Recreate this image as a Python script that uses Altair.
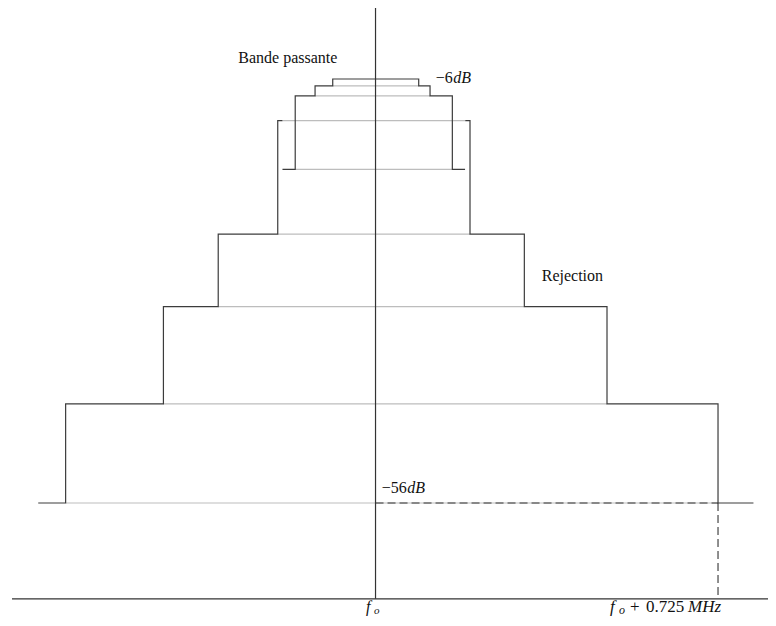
import altair as alt
import pandas as pd

# Frequency offsets (MHz, relative to f_o) and levels (dB)
rej_left_f = [-0.714, -0.656, -0.656, -0.449, -0.449, -0.333, -0.333, -0.207, -0.207, -0.197]
rej_left_db = [-56, -56, -44.3, -44.3, -32.85, -32.85, -24.3, -24.3, -10.9, -10.9]
rej_right_f = [0.190, 0.200, 0.200, 0.315, 0.315, 0.490, 0.490, 0.725, 0.725, 0.800]
rej_right_db = [-10.9, -10.9, -24.3, -24.3, -32.85, -32.85, -44.3, -44.3, -56, -56]
pass_f = [-0.197, -0.170, -0.170, -0.128, -0.128, -0.0906, -0.0906, 0.0914,
          0.0914, 0.1154, 0.1154, 0.1626, 0.1626, 0.1895]
pass_db = [-16.65, -16.65, -8.0, -8.0, -6.8, -6.8, -6.0, -6.0,
           -6.8, -6.8, -8.0, -8.0, -16.65, -16.65]

# light level lines across each step
grid_db = [-6.8, -8.0, -10.9, -16.65, -24.3, -32.85, -44.3, -56]
grid_f1 = [-0.0906, -0.128, -0.197, -0.170, -0.207, -0.333, -0.449, -0.656]
grid_f2 = [0.0914, 0.1154, 0.190, 0.1626, 0.200, 0.315, 0.490, 0.725]

# axes
axis_db = -67.3
f_min, f_max = -0.7695, 0.8308
db_top = 2.37
f_mark = 0.725
db_mark = -56

X_DOM = [-0.778, 0.8308]
Y_DOM = [-69.56, 2.373]
PX = 472.4  # pixels per MHz, used only for small text offsets

xs = alt.Scale(domain=X_DOM, nice=False, zero=False)
ys = alt.Scale(domain=Y_DOM, nice=False, zero=False)

rows = []
for name, fs, ds in [("rl", rej_left_f, rej_left_db), ("rr", rej_right_f, rej_right_db), ("pb", pass_f, pass_db)]:
    for i, (f, d) in enumerate(zip(fs, ds)):
        rows.append({"line": name, "i": i, "f": f, "db": d})
poly = pd.DataFrame(rows)

grid = pd.DataFrame({"f1": grid_f1, "f2": grid_f2, "db1": grid_db, "db2": grid_db})
axes = pd.DataFrame({"f1": [f_min, 0.0], "f2": [f_max, 0.0],
                     "db1": [axis_db, axis_db], "db2": [axis_db, db_top]})
dash = pd.DataFrame({"f1": [0.0, f_mark], "f2": [f_mark, f_mark],
                     "db1": [db_mark, db_mark], "db2": [db_mark, axis_db]})


def segs(df, color, width, dashp=None):
    kw = dict(color=color, strokeWidth=width)
    if dashp:
        kw["strokeDash"] = dashp
    return alt.Chart(df).mark_rule(**kw).encode(
        x=alt.X("f1:Q", scale=xs, axis=None),
        x2="f2:Q",
        y=alt.Y("db1:Q", scale=ys, axis=None),
        y2="db2:Q",
    )


grid_layer = segs(grid, "#bdbdbd", 1.2)
axes_layer = segs(axes, "#333333", 1.2)
dash_layer = segs(dash, "#333333", 1.1, [8, 4])

poly_layer = alt.Chart(poly).mark_line(color="#3c3c3c", strokeWidth=1.2, interpolate="linear").encode(
    x=alt.X("f:Q", scale=xs, axis=None),
    y=alt.Y("db:Q", scale=ys, axis=None),
    detail="line:N",
    order="i:Q",
)

# Labels
lab_db = -68.8
sub_db = -69.1
txt_plain = pd.DataFrame({
    "f": [-0.2904, 0.3518, 0.1274, 0.0131],
    "db": [-4.15, -29.82, -6.44, -54.86],
    "t": ["Bande passante", "Rejection", "\u22126", "\u221256"],
})
txt_ital = pd.DataFrame({
    "f": [0.1274 + 17.5 / PX, 0.0131 + 25.5 / PX, (366 - 375.5) / PX],
    "db": [-6.44, -54.86, lab_db],
    "t": ["dB", "dB", "f"],
})
txt_sub = pd.DataFrame({
    "f": [(374 - 375.5) / PX],
    "db": [sub_db],
    "t": ["o"],
})
# right-hand frequency label, slightly larger
big_plain = pd.DataFrame({"f": [(630 - 375.5) / PX, (646 - 375.5) / PX], "db": [lab_db, lab_db], "t": ["+", "0.725"]})
big_ital = pd.DataFrame({"f": [(610 - 375.5) / PX, (688 - 375.5) / PX], "db": [lab_db, lab_db], "t": ["f", "MHz"]})
big_sub = pd.DataFrame({"f": [(619 - 375.5) / PX], "db": [sub_db], "t": ["o"]})


def texts(df, size, style="normal"):
    return alt.Chart(df).mark_text(align="left", baseline="alphabetic", font="Liberation Serif",
                                   fontSize=size, fontStyle=style, color="#111111").encode(
        x=alt.X("f:Q", scale=xs, axis=None),
        y=alt.Y("db:Q", scale=ys, axis=None),
        text="t:N",
    )

chart = alt.layer(
    grid_layer, poly_layer, dash_layer, axes_layer,
    texts(txt_plain, 16), texts(txt_ital, 16, "italic"), texts(txt_sub, 11, "italic"),
    texts(big_plain, 17), texts(big_ital, 17, "italic"), texts(big_sub, 12, "italic"),
).properties(width=760, height=610, padding=0, autosize="none").configure_view(stroke=None)

chart.save("out.html", embed_options={"renderer": "svg", "actions": False})
